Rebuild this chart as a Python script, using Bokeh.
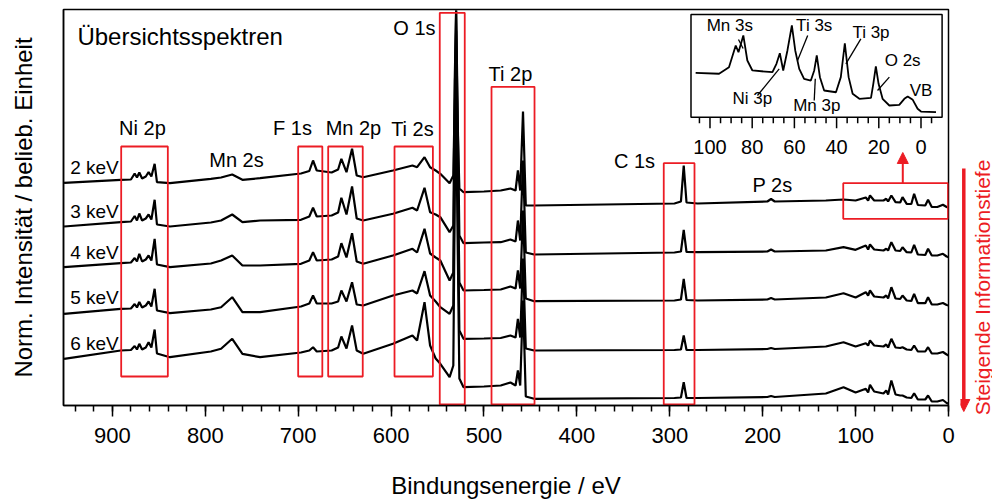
from math import pi

from bokeh.plotting import figure
from bokeh.layouts import row
from bokeh.models import (Range1d, SingleIntervalTicker, FixedTicker, Label, Arrow,
                          NormalHead)
from bokeh.embed import file_html
from bokeh.resources import INLINE
from bokeh.core.properties import value

# ---------------------------------------------------------------------------
# Survey spectra (binding energy in eV, normalised intensity incl. stack offset)
# ---------------------------------------------------------------------------
energy = [952, 891, 880, 876, 873.5, 871, 868, 864, 861, 858, 854.5, 852, 838,
          794, 783, 771, 760, 741, 697, 688, 684, 680, 664, 657, 653.5, 648,
          642, 637, 630, 598, 577, 572, 564, 558, 552, 547, 537, 533, 531.5,
          530, 528.5, 526.5, 522, 500, 482, 471.5, 466, 463.5, 461, 458, 455,
          446, 295, 288, 285, 282, 270, 195, 191, 187, 132, 113, 100, 89, 86.5,
          84.5, 80, 70, 67, 65, 61.5, 57, 52, 49.5, 45, 40, 37, 33, 25, 22, 18,
          12, 6, 2, 0]

int_2kev = [222.7, 225.7, 226, 232, 228, 233, 227, 229, 233.5, 229, 241.7, 223.3,
            222.3, 226.7, 228, 231, 225.7, 227.3, 232, 234.5, 245, 235, 233, 236,
            246.7, 233.3, 256.7, 230, 228.3, 235, 240, 238.3, 248.3, 238.3, 235,
            231.7, 222.3, 230, 305, 395, 285, 217, 213.3, 214, 215, 217, 215, 235,
            215, 294, 200, 200, 202, 204, 240, 203, 202, 204, 206.5, 204, 205, 206,
            205, 208, 205, 210, 205, 205, 206.7, 204, 210, 203.3, 203, 208.3, 201.7,
            201.5, 211.7, 200.5, 200, 205.7, 198.5, 198.5, 200.7, 198.5, 197.7]

int_3kev = [179, 183.3, 184, 189.5, 185, 192, 185, 187, 191, 186, 205.7, 181, 179,
            183, 185, 191, 183.3, 185, 185.7, 189, 197.7, 189, 190, 193, 207.7, 191,
            219, 187, 185, 191.7, 197.7, 195, 217.7, 193.3, 191, 188.3, 173.3, 180,
            325, 395, 305, 170, 162.3, 163, 163.3, 166, 164, 185, 165, 245, 153, 151,
            153, 154, 175.7, 153.5, 153.3, 154, 156, 154, 155, 158.3, 155.7, 160, 156,
            161, 156, 155, 156.7, 155, 163.3, 155, 154.5, 158.3, 153.3, 153, 160.7,
            151, 150.5, 156.7, 150, 150, 151.7, 149, 148.3]

int_4kev = [138.3, 142.3, 143, 147.5, 144, 151.7, 144, 146, 150, 145, 166.7, 141,
            138.3, 142, 145, 150, 140, 140, 141.7, 145, 153.3, 145, 146, 149, 162.3,
            148, 172.3, 144, 141.7, 150, 156.7, 153, 176.7, 152, 148, 145, 125, 133,
            285, 375, 265, 123, 115, 115.5, 116, 119, 117, 135, 117, 195, 107, 104.3,
            105, 106, 126.7, 105.5, 105, 106, 107.5, 106, 108, 112.3, 108, 113.3, 110,
            115, 109, 108, 110, 107, 118.3, 107, 106.5, 110, 105, 104.5, 111.7, 102.3,
            102.3, 108.3, 101, 101, 102.5, 100.5, 100]

int_5kev = [91.7, 96.7, 97, 101.5, 98, 103.5, 98, 100, 104, 99, 116.7, 95, 92.3, 96,
            98.3, 108.3, 93.3, 93.3, 99, 102, 110, 102, 102, 104, 115, 104, 123.3, 101,
            100, 110, 115, 112, 134.3, 110, 104, 98.3, 91.7, 100, 245, 345, 225, 75,
            66.7, 67, 67.5, 70, 68, 86.7, 68, 147, 57, 55, 55.5, 56, 70, 55.5, 55.5,
            56.5, 57.5, 56.5, 59, 63.3, 59, 62.3, 60, 65, 60, 59, 61, 58, 66.7, 58,
            57.5, 58.3, 56, 55.5, 60, 54, 54, 58.3, 52, 52, 53.5, 51, 50]

int_6kev = [46.7, 55, 55.5, 59.5, 56, 61.7, 56, 58, 63.3, 58, 76, 52, 48.3, 54, 56.7,
            66.7, 51.7, 48.3, 53, 55, 58.3, 54, 55, 58, 69, 57, 80, 55, 51.7, 61.7, 70,
            65, 103.3, 60, 47, 41.7, 28.3, 40, 205, 305, 175, 27, 18.3, 19, 20, 23, 20,
            35, 20, 105, 9, 6.7, 7.5, 8, 23.3, 7.5, 7.5, 8.5, 9.5, 8.5, 12, 18.3, 13,
            16.7, 13, 20.7, 14, 12, 15, 11, 25, 11, 10, 10, 8, 7.5, 12.3, 6, 6, 10, 4,
            4, 5.5, 2.5, 1.7]

spectra = [int_2kev, int_3kev, int_4kev, int_5kev, int_6kev]
excitation_labels = ["2 keV", "3 keV", "4 keV", "5 keV", "6 keV"]
excitation_label_y = [237.7, 194, 153, 108, 62]

# core-level labels and the regions marked for each
peak_labels = ["Ni 2p", "Mn 2s", "F 1s", "Mn 2p", "Ti 2s", "O 1s", "Ti 2p", "C 1s", "P 2s"]
peak_label_x = [867.6, 766.4, 706.1, 640.5, 577, 574.8, 471.5, 338, 189.4]
peak_label_y = [278, 246, 278, 278, 277, 378, 332, 244.5, 221]

region_left = [890.5, 700, 667.7, 596.3, 547.6, 491.9, 306.5, 113.3]
region_right = [840.3, 674, 630.5, 555, 520.7, 445.6, 273.4, 0.5]
region_bottom = [29, 29, 29, 29, 1, 1, 1, 186.7]
region_top = [259, 259, 259, 259, 392.7, 318.7, 242.3, 222.3]

# ---------------------------------------------------------------------------
# Valence-band region of the 2 keV spectrum (inset)
# ---------------------------------------------------------------------------
inset_energy = [106.8, 95.7, 91, 87.8, 86.5, 84.2, 82.3, 79.9, 70.4, 68.5, 66.9, 65.3,
                63.3, 61.2, 59.6, 57.7, 55.4, 52.2, 50.6, 49.4, 47.9, 45.9, 40.3, 38,
                36.1, 34.3, 32.4, 29.2, 23.7, 22.6, 21.4, 20.1, 18.2, 15, 10.3, 7.9,
                6.3, 3.9, 1.6, 0, -7.1]
inset_intensity = [43.2, 42.3, 48.7, 69.8, 63.3, 79.6, 55.2, 45.5, 43.8, 52, 62.3,
                   45.5, 65, 89.3, 65, 47.1, 37.4, 35.7, 45.5, 60.1, 39, 26, 24.3, 39,
                   72, 39, 22.8, 17.9, 18.9, 32.5, 49.4, 32.5, 17.9, 11.4, 12, 17.9,
                   20.2, 16.9, 8.2, 5.5, 4.9]

inset_labels = ["Mn 3s", "Ti 3s", "Ti 3p", "O 2s", "VB", "Ni 3p", "Mn 3p"]
inset_label_x = [90.6, 50.6, 23.7, 8.7, 0, 79.9, 49.4]
inset_label_y = [89.3, 89.3, 82.8, 55.2, 26, 17.9, 11.4]
leader_x0 = [86.5, 53.7, 28.5, 15, 77.5, 50.6]
leader_y0 = [75.7, 79.6, 76.3, 39, 21.1, 16.3]
leader_x1 = [84.3, 58.5, 35.6, 20.6, 67.2, 50.1]
leader_y1 = [66.9, 55.2, 52, 26, 47.1, 37.4]

inset_major_ticks = [100, 80, 60, 40, 20, 0]
inset_minor_ticks = [105, 95, 90, 85, 75, 70, 65, 55, 50, 45, 35, 30, 25, 15, 10, 5, -5]

RED = "#ec1c24"
FONT = "Liberation Sans"

p = figure(width=960, height=501, output_backend="svg", toolbar_location=None,
           x_range=Range1d(952.6, 0), y_range=Range1d(0, 396),
           min_border_left=63, min_border_right=12, min_border_top=9,
           min_border_bottom=96)
p.grid.visible = False
p.outline_line_color = "black"
p.outline_line_width = 1.5
p.background_fill_color = "white"
p.border_fill_color = "white"

xa = p.xaxis[0]
xa.ticker = SingleIntervalTicker(interval=100, num_minor_ticks=5)
xa.axis_line_color = "black"
xa.axis_line_width = 1.5
xa.major_tick_in = 0
xa.major_tick_out = 11
xa.minor_tick_in = 0
xa.minor_tick_out = 6
xa.major_tick_line_width = 1.5
xa.minor_tick_line_width = 1.5
xa.major_label_text_font = FONT
xa.major_label_text_font_size = "22px"
xa.major_label_text_color = "black"
xa.major_label_standoff = 11
xa.axis_label = "Bindungsenergie / eV"
xa.axis_label_text_font = FONT
xa.axis_label_text_font_size = "24px"
xa.axis_label_text_font_style = "normal"
xa.axis_label_text_color = "black"
xa.axis_label_standoff = 26

ya = p.yaxis[0]
ya.ticker = FixedTicker(ticks=[])
ya.axis_line_color = "black"
ya.axis_line_width = 1.5
ya.major_tick_out = 0
ya.minor_tick_out = 0
ya.axis_label = "Norm. Intensität / belieb. Einheit"
ya.axis_label_text_font = FONT
ya.axis_label_text_font_size = "24px"
ya.axis_label_text_font_style = "normal"
ya.axis_label_text_color = "black"
ya.axis_label_standoff = 27

for ints in spectra:
    p.line(energy, ints, line_color="black", line_width=2.2)

p.quad(left=region_left, right=region_right, bottom=region_bottom, top=region_top,
       fill_color=None, line_color=RED, line_width=1.8)

p.text(x=[919.3] * len(excitation_labels), y=excitation_label_y, text=excitation_labels,
       text_font=value(FONT), text_font_size="19px", text_align="center",
       text_baseline="middle", text_color="black")
p.text(x=peak_label_x, y=peak_label_y, text=peak_labels, text_font=value(FONT),
       text_font_size="20px", text_align="center", text_baseline="middle",
       text_color="black")
p.text(x=[937.6], y=[369], text=["Übersichtsspektren"], text_font=value(FONT),
       text_font_size="24px", text_align="left", text_baseline="middle",
       text_color="black")

# arrow from the marked valence region up to the inset
p.add_layout(Arrow(end=NormalHead(size=11, fill_color=RED, line_color=RED),
                   x_start=49.2, y_start=222.3, x_end=49.2, y_end=253,
                   line_color=RED, line_width=2))

# inset: own energy / intensity scale mapped into the upper right corner
inset = p.subplot(x_source=Range1d(109, -10), y_source=Range1d(0, 100),
                  x_target=Range1d(277.17, 6.89), y_target=Range1d(288.3, 391))
inset.quad(left=109, right=-10, bottom=0, top=100, fill_color="white",
           line_color="black", line_width=1.5)
inset.line(inset_energy, inset_intensity, line_color="black", line_width=1.8)
inset.segment(x0=inset_major_ticks, y0=[0] * 6, x1=inset_major_ticks, y1=[-10.7] * 6,
              line_color="black", line_width=1.5)
inset.segment(x0=inset_minor_ticks, y0=[0] * len(inset_minor_ticks),
              x1=inset_minor_ticks, y1=[-5.8] * len(inset_minor_ticks),
              line_color="black", line_width=1.5)
inset.text(x=inset_major_ticks, y=[-29.2] * 6, text=[str(t) for t in inset_major_ticks],
           text_font=value(FONT), text_font_size="20px", text_align="center",
           text_baseline="middle", text_color="black")
inset.segment(x0=leader_x0, y0=leader_y0, x1=leader_x1, y1=leader_y1,
              line_color="black", line_width=1.3)
inset.text(x=inset_label_x, y=inset_label_y, text=inset_labels, text_font=value(FONT),
           text_font_size="17px", text_align="center", text_baseline="middle",
           text_color="black")

# narrow side strip: information depth increases from top to bottom of the stack
side = figure(width=32, height=501, output_backend="svg", toolbar_location=None,
              x_range=Range1d(0, 32), y_range=Range1d(-96, 405),
              x_axis_type=None, y_axis_type=None,
              min_border_left=0, min_border_right=0, min_border_top=0,
              min_border_bottom=0)
side.frame_align = False
side.grid.visible = False
side.outline_line_color = None
side.background_fill_color = "white"
side.border_fill_color = "white"
side.add_layout(Arrow(end=NormalHead(size=12, fill_color=RED, line_color=RED),
                      x_start=3.3, y_start=237, x_end=3.3, y_end=-6,
                      line_color=RED, line_width=3.5))
side.add_layout(Label(x=21.5, y=118, text="Steigende Informationstiefe", angle=pi / 2,
                      text_align="center", text_baseline="middle", text_color=RED,
                      text_font=FONT, text_font_size="21px"))

layout = row(p, side)
open("out.html", "w").write(file_html(layout, INLINE))
